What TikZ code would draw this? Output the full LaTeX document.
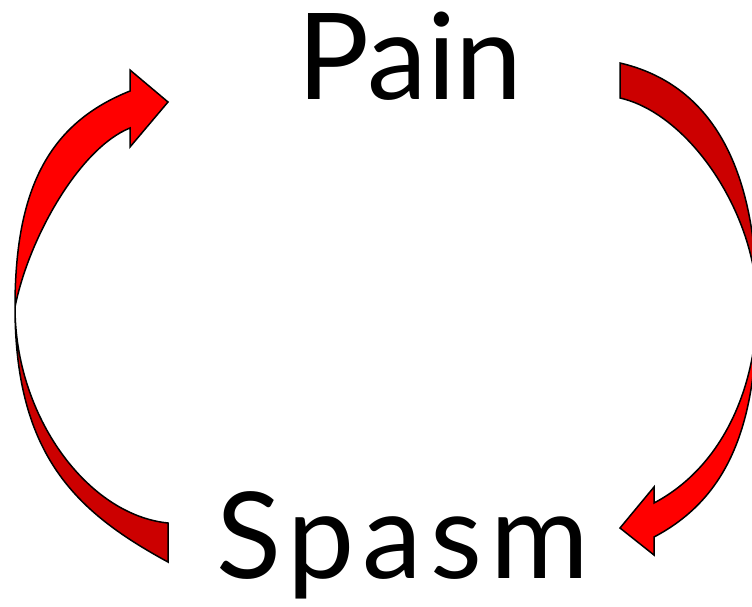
\documentclass[tikz,border=0pt]{standalone}
\usepackage{fontspec}
\setmainfont{Lato}
\definecolor{arrowred}{HTML}{FF0000}
\definecolor{arrowdark}{HTML}{CC0000}
\tikzset{
  frontface/.style={fill=arrowred,draw=black,line width=1.5pt,line join=miter},
  backface/.style={fill=arrowdark,draw=black,line width=1.5pt,line join=miter},
  word/.style={font=\fontsize{120}{140}\selectfont, inner sep=0pt}
}
\begin{document}
\begin{tikzpicture}[x=1pt,y=-1pt]
\useasboundingbox (0,0) rectangle (752,606);
\clip (0,0) rectangle (752,606);
% left arrow: Spasm -> Pain
\path[backface] (168,523) -- (168,562) .. controls (78,513) and (15,457) .. (15,307)
  .. controls (15,417) and (88,515) .. (168,523) -- cycle;
\path[frontface] (15,307) .. controls (15,187) and (50,123) .. (130,91) -- (130,70) -- (168,102)
  -- (130,147) -- (130,128) .. controls (80,148) and (29,237) .. (15,307) -- cycle;
% right arrow: Pain -> Spasm
\path[backface] (620,63) .. controls (710,84) and (757,165) .. (757,305)
  .. controls (757,215) and (690,114) .. (620,98) -- cycle;
\path[frontface] (757,305) .. controls (757,415) and (734,495) .. (654,537) -- (654,555) -- (620,528)
  -- (654,487) -- (654,503) .. controls (724,466) and (757,385) .. (757,305) -- cycle;
\node[word, anchor=base west] (pain) at (297,99) {Pain};
\node[word, anchor=base west] (spasm) at (216,578) {\addfontfeature{LetterSpace=6.5}Spasm};
\end{tikzpicture}
\end{document}
